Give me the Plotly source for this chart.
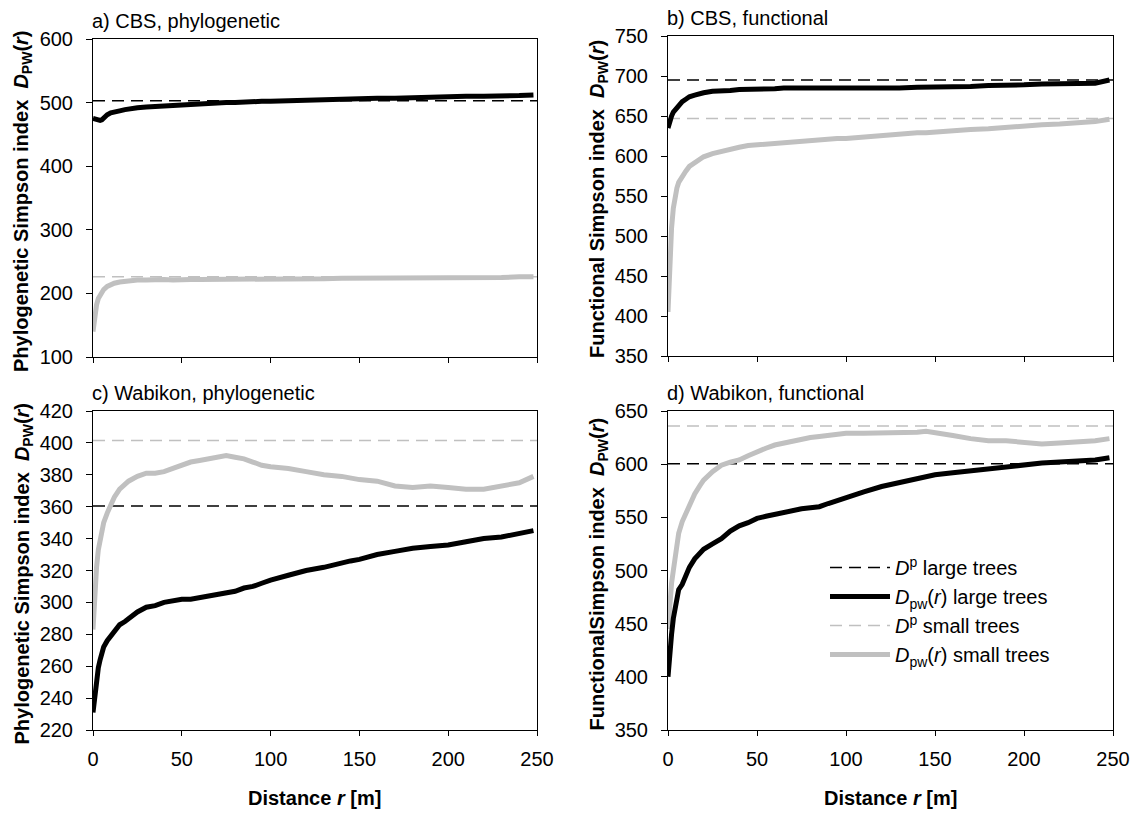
import plotly.graph_objects as go

# ---------------- data ----------------
R = [0, 1, 2, 3, 4, 5, 6, 8, 10, 12, 15, 18, 20, 25, 30, 35, 40, 45, 50, 55, 60, 65, 70, 75, 80,
     85, 90, 95, 100, 110, 120, 130, 140, 145, 150, 160, 170, 180, 190, 200, 210, 220, 230, 240, 248]

# a) CBS, phylogenetic
a_dp_large = 503
a_dp_small = 226
a_pw_large = [475, 474, 473, 472, 472, 473, 476, 481, 484, 486, 487, 489, 490, 492, 493, 494, 494, 495, 495,
              496, 497, 498, 499, 500, 500, 501, 501, 502, 502, 503, 503, 504, 505, 505, 506, 507, 507, 508,
              508, 509, 510, 510, 510, 511, 512]
a_pw_small = [140, 165, 182, 192, 198, 203, 206, 211, 214, 216, 218, 219, 220, 221, 221, 222, 222, 221, 222,
              222, 222, 222, 222, 222, 223, 223, 223, 222, 223, 223, 223, 223, 224, 224, 224, 224, 224, 224,
              225, 225, 225, 225, 225, 226, 226]

# b) CBS, functional
b_dp_large = 695
b_dp_small = 647
b_pw_large = [635, 645, 650, 655, 658, 661, 664, 668, 671, 674, 676, 678, 679, 681, 681, 682, 683, 683, 684,
              684, 684, 685, 685, 685, 684, 685, 685, 684, 685, 685, 685, 685, 686, 686, 687, 687, 687, 688,
              688, 689, 690, 690, 691, 691, 695]
b_pw_small = [405, 470, 510, 535, 550, 560, 567, 575, 581, 587, 592, 596, 599, 603, 606, 609, 611, 613, 614,
              615, 616, 617, 618, 618, 619, 620, 621, 622, 622, 624, 626, 628, 629, 629, 630, 631, 633, 634,
              636, 637, 639, 640, 641, 643, 646]

# c) Wabikon, phylogenetic
c_dp_large = 360.5
c_dp_small = 401.5
c_pw_large = [231, 242, 252, 259, 264, 268, 272, 276, 279, 282, 286, 288, 290, 294, 297, 298, 300, 301, 302,
              302, 303, 304, 305, 306, 307, 309, 310, 312, 314, 317, 320, 322, 325, 326, 327, 330, 332, 334,
              335, 336, 338, 340, 341, 343, 345]
c_pw_small = [283, 305, 322, 333, 340, 346, 350, 356, 361, 366, 371, 374, 376, 379, 381, 381, 382, 384, 386,
              388, 389, 390, 391, 392, 391, 390, 388, 386, 385, 384, 382, 380, 379, 378, 377, 376, 373, 372,
              373, 372, 371, 371, 373, 375, 379]

# d) Wabikon, functional
d_dp_large = 600.5
d_dp_small = 636
d_pw_large = [400, 425, 440, 455, 466, 475, 482, 487, 495, 503, 511, 517, 520, 525, 530, 537, 542, 545, 549,
              551, 553, 555, 557, 558, 559, 560, 563, 566, 569, 574, 579, 583, 587, 588, 590, 592, 594, 596,
              598, 600, 601, 602, 603, 604, 606]
d_pw_small = [445, 470, 488, 500, 515, 527, 535, 546, 553, 562, 572, 580, 585, 593, 599, 602, 604, 608, 612,
              615, 618, 620, 622, 623, 625, 626, 627, 628, 629, 629, 629, 629, 630, 631, 630, 627, 624, 622,
              622, 620, 619, 620, 621, 622, 624]

X_RANGE = [0, 250]
X_TICKS = [0, 50, 100, 150, 200, 250]

panels = [
    dict(name="a) CBS, phylogenetic", ylab="Phylogenetic Simpson index", yr=[100, 600], dt=100,
         dpl=a_dp_large, dps=a_dp_small, pwl=a_pw_large, pws=a_pw_small),
    dict(name="b) CBS, functional", ylab="Functional Simpson index", yr=[350, 750], dt=50,
         dpl=b_dp_large, dps=b_dp_small, pwl=b_pw_large, pws=b_pw_small),
    dict(name="c) Wabikon, phylogenetic", ylab="Phylogenetic Simpson index", yr=[220, 420], dt=20,
         dpl=c_dp_large, dps=c_dp_small, pwl=c_pw_large, pws=c_pw_small),
    dict(name="d) Wabikon, functional", ylab="FunctionalSimpson index", yr=[350, 650], dt=50,
         dpl=d_dp_large, dps=d_dp_small, pwl=d_pw_large, pws=d_pw_small),
]

# ---------------- layout (pixels) ----------------
W, H = 1133, 813
FONT = "Liberation Sans, Arial, sans-serif"
XPIX = [(93, 537), (668, 1113), (93, 537), (668, 1113)]
YPIX = [(39, 357), (36, 356), (411, 730), (411, 730)]

BLACK = "#000000"
GRAY = "#c0c0c0"
DASH = "12px,7px"
TICK_FS = 20

fig = go.Figure()
layout = dict(
    width=W, height=H, margin=dict(l=0, r=0, t=0, b=0),
    paper_bgcolor="white", plot_bgcolor="white",
    font=dict(family=FONT, size=TICK_FS, color="black"),
    showlegend=True,
    legend=dict(x=825 / W, y=1 - 548 / H, xanchor="left", yanchor="top",
                bgcolor="rgba(0,0,0,0)", font=dict(size=20), tracegroupgap=0,
                itemwidth=60),
)
annotations = []

for i, p in enumerate(panels):
    k = "" if i == 0 else str(i + 1)
    xa, ya = "x" + k, "y" + k
    x0, x1 = XPIX[i]
    yt, yb = YPIX[i]
    bottom = i >= 2
    layout["xaxis" + k] = dict(
        domain=[x0 / W, x1 / W], range=X_RANGE, tickvals=X_TICKS,
        showticklabels=bottom, ticks="outside", ticklen=5, tickwidth=1, tickcolor="black",
        showline=True, linecolor="black", linewidth=1, mirror=True, showgrid=False,
        zeroline=False, anchor=ya, tickfont=dict(size=TICK_FS), automargin=False,
        ticklabelstandoff=6,
    )
    ticks = list(range(p["yr"][0], p["yr"][1] + 1, p["dt"]))
    layout["yaxis" + k] = dict(
        domain=[1 - yb / H, 1 - yt / H], range=p["yr"], tickvals=ticks,
        ticks="outside", ticklen=6, tickwidth=1, tickcolor="black",
        showline=True, linecolor="black", linewidth=1, mirror=True, showgrid=False,
        zeroline=False, anchor=xa, tickfont=dict(size=TICK_FS), automargin=False,
        ticklabelstandoff=9,
    )
    show = i == 3
    fig.add_trace(go.Scatter(x=X_RANGE, y=[p["dpl"]] * 2, xaxis=xa, yaxis=ya, mode="lines",
                             line=dict(color=BLACK, width=1.5, dash=DASH),
                             name="<i>D</i><sup>p</sup> large trees", showlegend=show, legendrank=1))
    fig.add_trace(go.Scatter(x=X_RANGE, y=[p["dps"]] * 2, xaxis=xa, yaxis=ya, mode="lines",
                             line=dict(color=GRAY, width=1.5, dash=DASH),
                             name="<i>D</i><sup>p</sup> small trees", showlegend=show, legendrank=3))
    fig.add_trace(go.Scatter(x=R, y=p["pws"], xaxis=xa, yaxis=ya, mode="lines",
                             line=dict(color=GRAY, width=5),
                             name="<i>D</i><sub>pw</sub>(<i>r</i>) small trees", showlegend=show,
                             legendrank=4))
    fig.add_trace(go.Scatter(x=R, y=p["pwl"], xaxis=xa, yaxis=ya, mode="lines",
                             line=dict(color=BLACK, width=5),
                             name="<i>D</i><sub>pw</sub>(<i>r</i>) large trees", showlegend=show,
                             legendrank=2))
    # panel title
    annotations.append(dict(text=p["name"], xref="paper", yref="paper", x=(x0 - 3) / W,
                            y=1 - (yt - 18) / H, xanchor="left", yanchor="middle", showarrow=False,
                            font=dict(size=20)))
    # y-axis title
    ycenter = (yt + yb) / 2 + 3
    annotations.append(dict(text="<b>" + p["ylab"] + "  <i>D</i><sub>PW</sub>(<i>r</i>)</b>",
                            xref="paper", yref="paper", x=(x0 - 70) / W, y=1 - ycenter / H,
                            xanchor="center", yanchor="middle", textangle=-90, showarrow=False,
                            font=dict(size=20)))
    if bottom:
        annotations.append(dict(text="<b>Distance <i>r</i> [m]</b>", xref="paper", yref="paper",
                                x=((x0 + x1) / 2) / W, y=1 - 798 / H, xanchor="center",
                                yanchor="middle", showarrow=False, font=dict(size=20)))

layout["annotations"] = annotations
fig.update_layout(**layout)
fig.write_html("out.html", post_script="document.body.style.margin='0px';",
               config={"displayModeBar": False})
